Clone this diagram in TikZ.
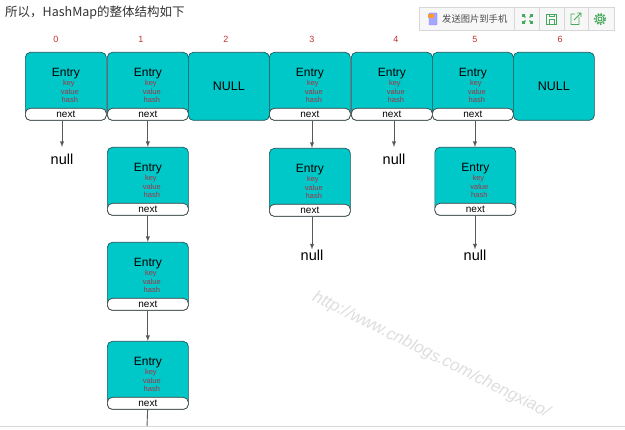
\documentclass[tikz,border=0pt]{standalone}
\usepackage{fontspec}
\setmainfont{Liberation Sans}
\newfontfamily\cjkfont{Noto Sans CJK SC}
\usetikzlibrary{calc}
\definecolor{entryteal}{RGB}{0,200,200}
\definecolor{entryedge}{RGB}{30,85,90}
\definecolor{fieldred}{RGB}{165,50,70}
\definecolor{indexred}{RGB}{195,50,50}
\definecolor{barline}{RGB}{215,215,215}
\definecolor{bargreen}{RGB}{70,170,90}

\tikzset{
	entrybody/.style={draw=entryedge,line width=0.7pt,fill=entryteal,rounded corners=5pt,minimum width=81pt,minimum height=68pt,inner sep=0pt,anchor=north west},
	nextbox/.style={draw=black!75,line width=0.7pt,fill=white,rounded corners=5pt,minimum width=81pt,minimum height=12pt,inner sep=0pt,font=\fontsize{10}{10}\selectfont,anchor=south},
	entrytext/.style={inner sep=0pt,font=\fontsize{12}{12}\selectfont},
	fieldtext/.style={inner sep=0pt,text=fieldred,font=\fontsize{7.5}{7.5}\selectfont},
	indextext/.style={inner sep=0pt,text=indexred,font=\fontsize{9}{9}\selectfont},
	nulltext/.style={inner sep=0pt,font=\fontsize{14.5}{14.5}\selectfont},
	linkarrow/.style={draw=black!65,line width=0.9pt,-latex},
	tooltext/.style={inner sep=0pt,text=black!70,font=\cjkfont\fontsize{9.3}{9.3}\selectfont},
	toolline/.style={draw=bargreen,line width=0.9pt}
}

\newcommand{\entrybox}[3]{
	\node[entrybody] (#1) at (#2,#3) {};
	\node[nextbox] (#1n) at (#1.south) {next};
	\node[entrytext] (#1t) at ($(#1.north)+(0,22)$) {Entry};
	\node[fieldtext] (#1k) at ($(#1.north)+(3,32)$) {key};
	\node[fieldtext] (#1v) at ($(#1.north)+(4,40)$) {value};
	\node[fieldtext] (#1h) at ($(#1.north)+(4,48)$) {hash};
}

\begin{document}
\begin{tikzpicture}[x=1pt,y=-1pt]
\useasboundingbox[fill=white] (0,0) rectangle (625,430);

\node[inner sep=0pt,anchor=west,text=black!80,font=\cjkfont\fontsize{12.5}{12.5}\selectfont] (title) at (5,13) {所以，HashMap的整体结构如下};

% top row
\foreach \name/\xpos/\lab/\ixpos in {a0/25/0/56,a1/107/1/141,a3/269/3/312,a4/351/4/396,a5/432/5/475}{
	\entrybox{\name}{\xpos}{52}
	\node[indextext] (i\lab) at (\ixpos,39) {\lab};
}
\foreach \name/\xpos/\lab/\ixpos in {a2/188/2/226,a6/513/6/560}{
	\node[entrybody,font=\fontsize{12.5}{12.5}\selectfont] (\name) at (\xpos,52) {NULL};
	\node[indextext] (i\lab) at (\ixpos,39) {\lab};
}

% chains
\entrybox{b1}{107}{147}
\entrybox{c1}{107}{242}
\entrybox{d1}{107}{341}
\entrybox{b3}{269}{148}
\entrybox{b5}{434.5}{147}

\node[nulltext] (null0) at (62,159) {null};
\node[nulltext] (null3) at (312,255) {null};
\node[nulltext] (null4) at (394,159) {null};
\node[nulltext] (null5) at (475,255) {null};
\coordinate (dend) at (147,427);

\draw[linkarrow] (a0n.south -| null0) -- (null0.north |- 0,147);
\draw[linkarrow] (a1n) -- (b1);
\draw[linkarrow] (b1n) -- (c1);
\draw[linkarrow] (c1n) -- (d1);
\draw[draw=black!65,line width=0.9pt] (d1n) -- (dend);
\draw[linkarrow] (a3n.south -| null3) -- (null3 |- b3.north);
\draw[linkarrow] (a4n.south -| null4) -- (null4 |- 0,147);
\draw[linkarrow] (a5n.south -| null5) -- (null5 |- b5.north);
\draw[linkarrow] (b3n.south -| null3) -- (null3.north);
\draw[linkarrow] (b5n.south -| null5) -- (null5.north);

% toolbar
\node[draw=barline,fill=black!3,line width=0.7pt,minimum width=195pt,minimum height=23pt,inner sep=0pt,anchor=north west] (bar) at (418.5,7) {};
\foreach \xpos in {514,539,564,588}{
	\draw[barline,line width=0.7pt] (\xpos,7) -- (\xpos,30);
}
\node[tooltext,anchor=west] (send) at (442,19) {发送图片到手机};
\draw[fill=blue!35,draw=blue!50,rounded corners=1pt] (429,13) rectangle (437,25);
\draw[fill=orange!80,draw=none] (428,14) rectangle (434,18);
% green icons
\draw[toolline,line width=1.3pt] (523,15) -- (525.5,17.5) (532,15) -- (529.5,17.5) (523,23) -- (525.5,20.5) (532,23) -- (529.5,20.5);
\draw[toolline,fill=bargreen] (522.5,14.5) rectangle (524.5,16.5) (530.5,14.5) rectangle (532.5,16.5) (522.5,21.5) rectangle (524.5,23.5) (530.5,21.5) rectangle (532.5,23.5);
\draw[toolline] (546.5,14) rectangle (556.5,24.5) (549,19) rectangle (554,24.5) (549,14) -- (549,16.5) -- (554,16.5) -- (554,14);
\draw[toolline] (579,17) -- (579,24.5) -- (571,24.5) -- (571,14) -- (575,14) (574,20) -- (581,13) (577,13) -- (581,13) -- (581,17);
\draw[toolline] (600,19) circle (2pt);
\draw[toolline] (600,19) circle (4pt);
\draw[bargreen,line width=1.6pt,dash pattern=on 1.5pt off 1.6pt] (600,19) circle (5.4pt);

% watermark
\node[inner sep=0pt,rotate=-26.5,text=black!13,font=\itshape\fontsize{16.8}{16.8}\selectfont] (mark) at (431,355) {http://www.cnblogs.com/chengxiao/};
\draw[barline,line width=0.7pt] (0,426) -- (625,426);
\end{tikzpicture}
\end{document}
